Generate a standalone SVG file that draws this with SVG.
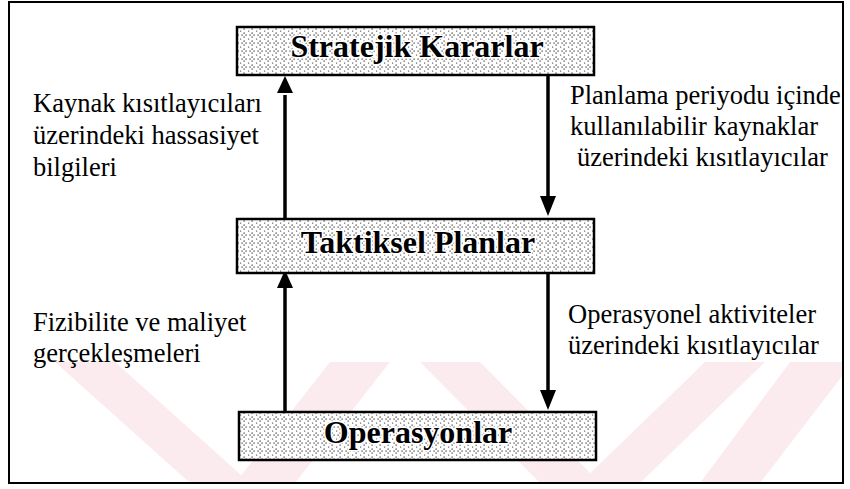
<svg xmlns="http://www.w3.org/2000/svg" width="850" height="489" viewBox="0 0 850 489">
<style>
.lbl{font-family:"Liberation Serif","Times New Roman",serif;font-size:26.5px;fill:#000}
.bt{font-family:"Liberation Serif","Times New Roman",serif;font-size:32px;font-weight:bold;fill:#000;text-anchor:middle;stroke:#fff;stroke-width:3px;paint-order:stroke;stroke-linejoin:round}
.box{fill:url(#dots);stroke:#000;stroke-width:2.5}
.arr{stroke:#000;stroke-width:3.5;fill:none}
.head{fill:#000}
.wm{fill:#fcebee}
</style>
<defs>
<pattern id="dots" width="8" height="8" patternUnits="userSpaceOnUse">
<rect width="8" height="8" fill="#fff"/>
<rect x="3.5" y="0.5" width="1.2" height="1.2" fill="#333"/>
<rect x="1.5" y="2.5" width="1.2" height="1.2" fill="#333"/>
<rect x="5.5" y="2.5" width="1.2" height="1.2" fill="#333"/>
<rect x="3.5" y="4.5" width="1.2" height="1.2" fill="#333"/>
<rect x="0" y="6.5" width="1.2" height="1.2" fill="#666"/>
</pattern>
</defs>
<g id="watermark">
<polygon class="wm" points="55,362 115,362 250,483 190,483"/>
<polygon class="wm" points="330,362 390,362 295,483 235,483"/>
<polygon class="wm" points="420,362 480,362 600,483 540,483"/>
<polygon class="wm" points="705,362 765,362 640,483 580,483"/>
<polygon class="wm" points="790,362 843,362 843,375 760,483 700,483"/>
</g>
<rect id="frame" x="9" y="2" width="834" height="481" fill="none" stroke="#000" stroke-width="2"/>
<g id="connectors">
<line class="arr" x1="285" y1="218" x2="285" y2="95"/>
<path class="head" d="M277,93 L293,93 L285,76 Z"/>
<line class="arr" x1="548" y1="75" x2="548" y2="196"/>
<path class="head" d="M540,196 L556,196 L548,216 Z"/>
<line class="arr" x1="285" y1="411" x2="285" y2="288"/>
<path class="head" d="M277,288 L293,288 L285,270 Z"/>
<line class="arr" x1="548" y1="273" x2="548" y2="390"/>
<path class="head" d="M540,390 L556,390 L548,410 Z"/>
</g>
<g id="strateji">
<rect class="box" x="237" y="27" width="357" height="48"/>
<text class="bt" x="417" y="57">Stratejik Kararlar</text>
</g>
<g id="taktik">
<rect class="box" x="237" y="219" width="357" height="54"/>
<text class="bt" x="418" y="253">Taktiksel Planlar</text>
</g>
<g id="operasyon">
<rect class="box" x="239" y="412" width="357" height="48"/>
<text class="bt" x="418" y="443">Operasyonlar</text>
</g>
<g id="labels">
<text class="lbl" x="33" y="112">Kaynak kısıtlayıcıları</text>
<text class="lbl" x="33" y="144">üzerindeki hassasiyet</text>
<text class="lbl" x="33" y="176">bilgileri</text>
<text class="lbl" x="570" y="104">Planlama periyodu içinde</text>
<text class="lbl" x="570" y="135">kullanılabilir kaynaklar</text>
<text class="lbl" x="577" y="166">üzerindeki kısıtlayıcılar</text>
<text class="lbl" x="33" y="331">Fizibilite ve maliyet</text>
<text class="lbl" x="33" y="362">gerçekleşmeleri</text>
<text class="lbl" x="568" y="323">Operasyonel aktiviteler</text>
<text class="lbl" x="568" y="354">üzerindeki kısıtlayıcılar</text>
</g>
</svg>
